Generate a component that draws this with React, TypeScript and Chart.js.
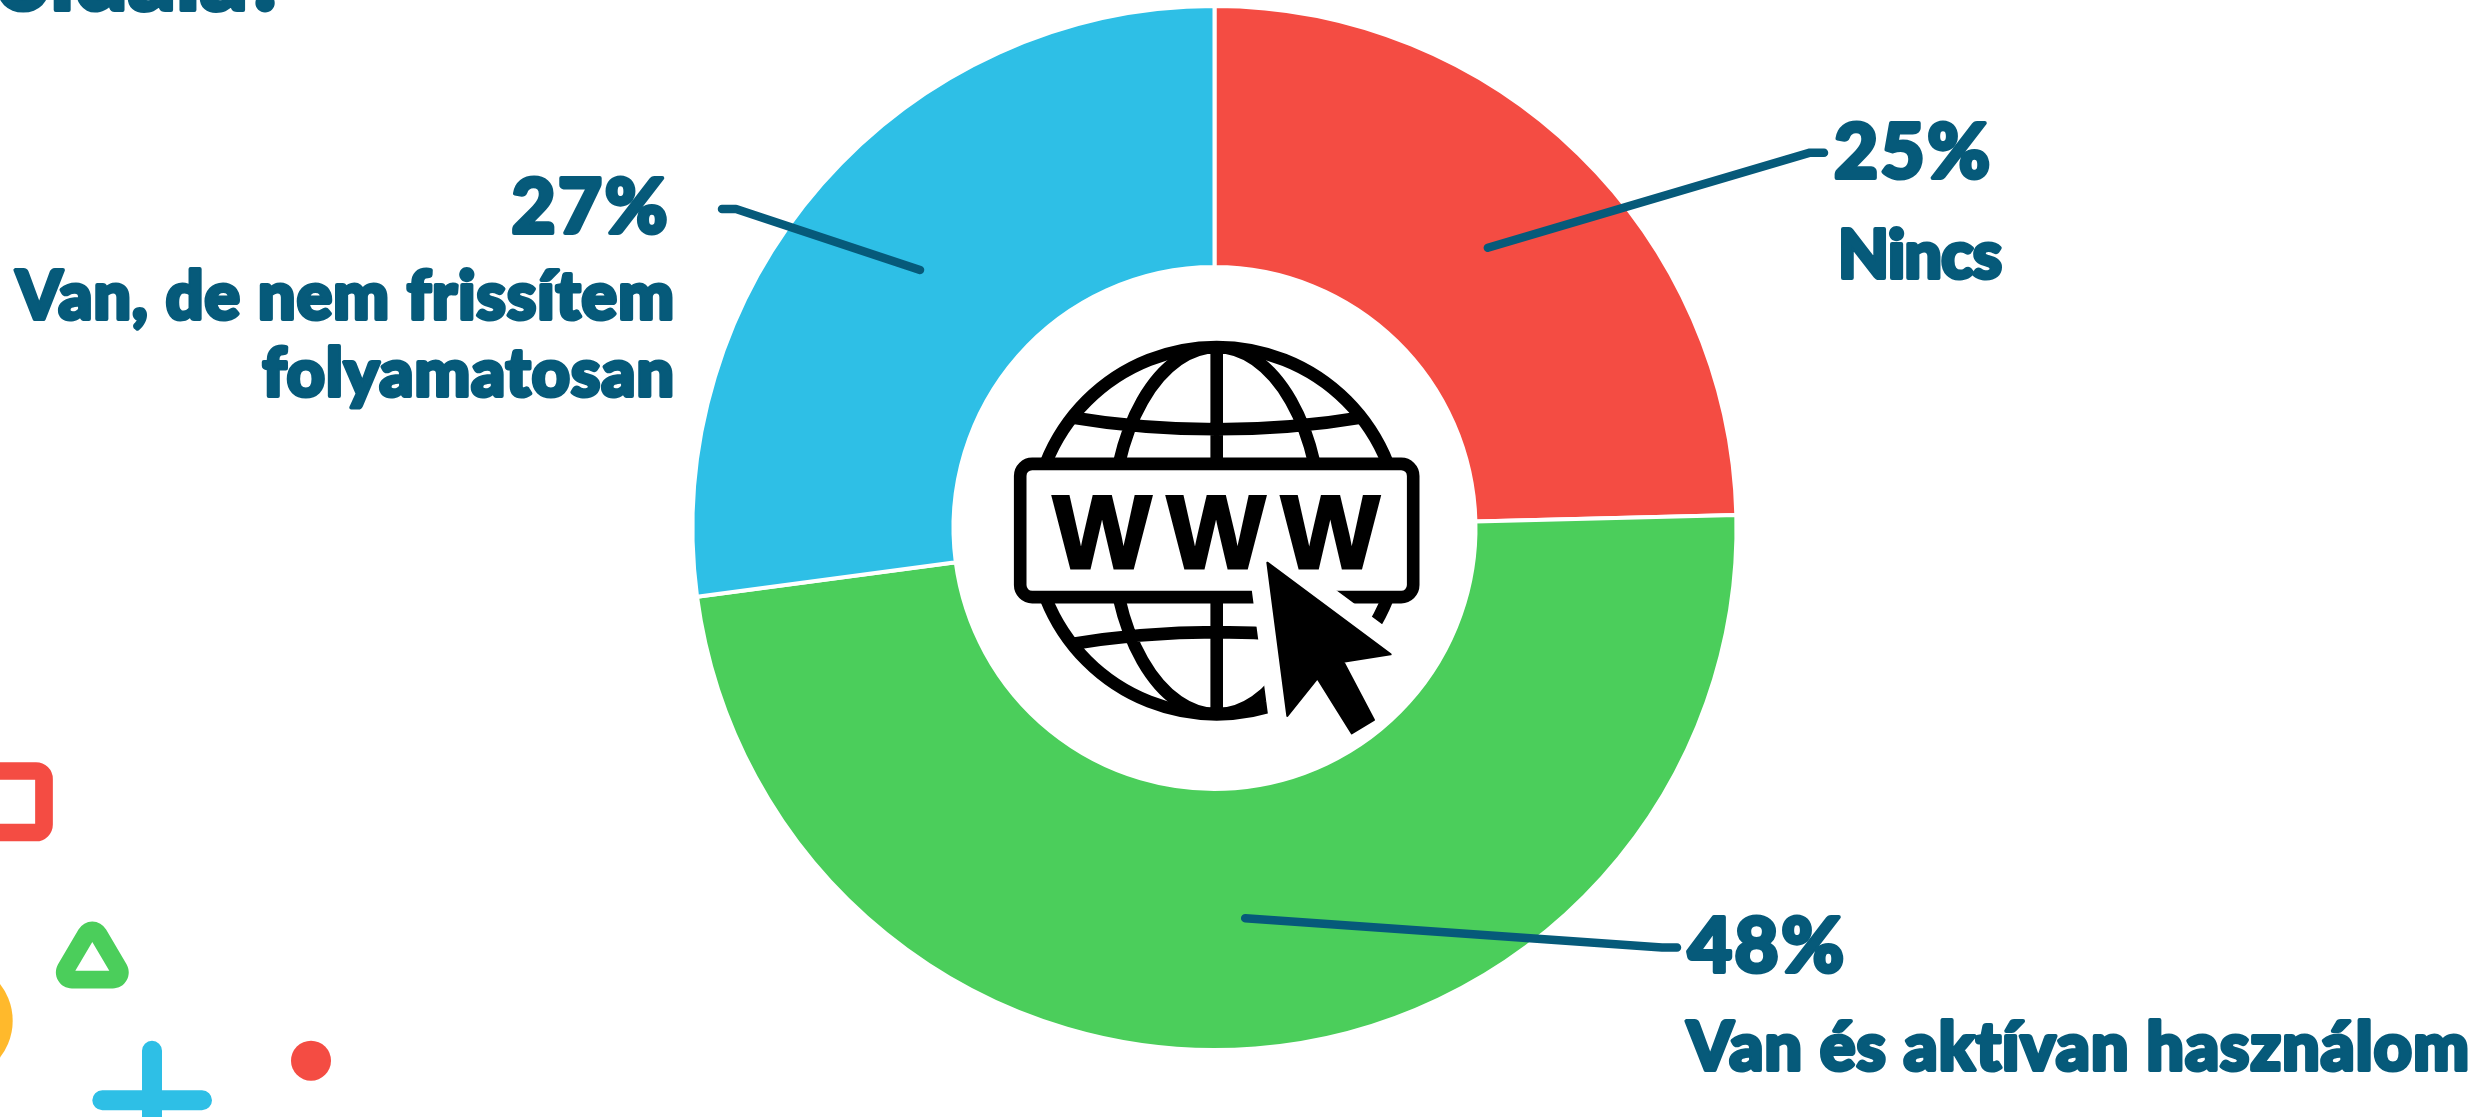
import React, { useEffect, useRef } from "react";
import { Chart, registerables } from "chart.js";

Chart.register(...registerables);

const categories = ["Nincs", "Van és aktívan használom", "Van, de nem frissítem folyamatosan"];
const seriesValues = [24.6, 48.3, 27.1];
const percentLabels = ["25%", "48%", "27%"];
const sliceColors = ["#F44C43", "#4BCE5B", "#2EBFE6"];
const labelLines = [["Nincs"], ["Van és aktívan használom"], ["Van, de nem frissítem", "folyamatosan"]];
const TEXT = "#065A7A";
const W = 2486;
const H = 1117;

const FONT = (size: number) => `900 ${size}px Lato, sans-serif`;

function drawText(ctx: CanvasRenderingContext2D, s: string, x: number, y: number, size: number, align: CanvasTextAlign, spacing: number) {
  ctx.font = FONT(size);
  (ctx as any).letterSpacing = `${spacing}px`;
  ctx.textAlign = align;
  ctx.textBaseline = "alphabetic";
  ctx.fillStyle = TEXT;
  ctx.strokeStyle = TEXT;
  ctx.lineWidth = 4;
  ctx.lineJoin = "round";
  ctx.strokeText(s, x, y);
  ctx.fillText(s, x, y);
  (ctx as any).letterSpacing = "0px";
}

function roundRect(ctx: CanvasRenderingContext2D, x: number, y: number, w: number, h: number, r: number) {
  ctx.beginPath();
  ctx.roundRect(x, y, w, h, r);
}

function drawDecor(ctx: CanvasRenderingContext2D) {
  ctx.save();
  ctx.strokeStyle = "#F44C43";
  ctx.lineWidth = 17.7;
  roundRect(ctx, -60, 771, 104, 61.5, 8);
  ctx.stroke();

  ctx.fillStyle = "#FFB92C";
  ctx.beginPath();
  ctx.arc(-46.7, 1020.7, 59.4, 0, Math.PI * 2);
  ctx.fill();

  ctx.fillStyle = "#4BCE5B";
  ctx.beginPath();
  const a = [92.3, 906], b = [140.7, 988.4], c = [43.9, 988.4];
  ctx.moveTo(92.3, 988.4);
  ctx.arcTo(b[0], b[1], a[0], a[1], 16);
  ctx.arcTo(a[0], a[1], c[0], c[1], 16);
  ctx.arcTo(c[0], c[1], b[0], b[1], 16);
  ctx.closePath();
  ctx.moveTo(92.3, 942);
  ctx.lineTo(75.3, 970.7);
  ctx.lineTo(109.3, 970.7);
  ctx.closePath();
  ctx.fill("evenodd");

  ctx.strokeStyle = "#2EBFE6";
  ctx.lineWidth = 20;
  ctx.lineCap = "round";
  ctx.beginPath();
  ctx.moveTo(152, 1050.7);
  ctx.lineTo(152, 1140);
  ctx.moveTo(102.3, 1100.3);
  ctx.lineTo(202, 1100.3);
  ctx.stroke();

  ctx.fillStyle = "#F44C43";
  ctx.beginPath();
  ctx.arc(311, 1060.7, 20, 0, Math.PI * 2);
  ctx.fill();
  ctx.restore();
}

function drawIcon(ctx: CanvasRenderingContext2D, holeX: number, holeY: number, holeR: number) {
  const cx = 1216.7, cy = 530.7, r = 183.7;
  ctx.save();
  ctx.strokeStyle = "#000";
  ctx.lineWidth = 12.6;
  ctx.beginPath();
  ctx.arc(cx, cy, r, 0, Math.PI * 2);
  ctx.stroke();
  ctx.save();
  ctx.beginPath();
  ctx.arc(cx, cy, r, 0, Math.PI * 2);
  ctx.clip();
  ctx.beginPath();
  ctx.ellipse(cx, cy, 105, r, 0, 0, Math.PI * 2);
  ctx.moveTo(cx, cy - r);
  ctx.lineTo(cx, cy + r);
  for (const sign of [-1, 1]) {
    ctx.moveTo(cx - 150, cy + sign * 114);
    ctx.quadraticCurveTo(cx, cy + sign * 88.8, cx + 150, cy + sign * 114);
  }
  ctx.stroke();
  ctx.restore();

  ctx.fillStyle = "#fff";
  roundRect(ctx, 1020.2, 463.9, 393, 133.2, 12);
  ctx.fill();
  ctx.stroke();

  const cursor = [[922, 788], [1292, 1063], [1150, 1085], [1242, 1260], [1175, 1300], [1072, 1135], [982, 1248]].map(
    ([x, y]) => [x / 3 + 960, y / 3 + 300]
  );
  const tracePath = () => {
    ctx.beginPath();
    cursor.forEach(([x, y], i) => (i ? ctx.lineTo(x, y) : ctx.moveTo(x, y)));
    ctx.closePath();
  };
  ctx.save();
  ctx.beginPath();
  ctx.arc(holeX, holeY, holeR, 0, Math.PI * 2);
  ctx.clip();
  ctx.strokeStyle = "#fff";
  ctx.lineWidth = 38;
  ctx.lineJoin = "round";
  tracePath();
  ctx.stroke();
  ctx.restore();

  ctx.fillStyle = "#000";
  ctx.strokeStyle = "#000";
  ctx.font = "700 104px 'Liberation Sans', sans-serif";
  ctx.textAlign = "center";
  ctx.textBaseline = "alphabetic";
  ctx.lineWidth = 3;
  ctx.lineJoin = "miter";
  for (const x of [1102, 1216, 1330.4]) {
    ctx.strokeText("W", x, 568);
    ctx.fillText("W", x, 568);
  }

  tracePath();
  ctx.lineJoin = "round";
  ctx.lineWidth = 2;
  ctx.stroke();
  ctx.fill();
  ctx.restore();
}

const leaderPaths = [
  { knee: [1810, 152.7], end: [1824, 152.7] },
  { knee: [1662, 947.5], end: [1677, 947.5] },
  { knee: [736, 209], end: [722, 209] },
];
const labelLayout = [
  { x: 1834, pctY: 178, lineYs: [278], lineX: 1838, align: "left" as CanvasTextAlign, spacing: -0.6 },
  { x: 1688, pctY: 971.7, lineYs: [1070], lineX: 1687, align: "left" as CanvasTextAlign, spacing: 1.2 },
  { x: 670, pctY: 233, lineYs: [319, 396], lineX: 675, align: "right" as CanvasTextAlign, spacing: 1.2 },
];

const overlay = {
  id: "overlay",
  afterDatasetsDraw(chart: any) {
    const ctx: CanvasRenderingContext2D = chart.ctx;
    ctx.save();
    drawDecor(ctx);
    const arcs = chart.getDatasetMeta(0).data;
    drawIcon(ctx, arcs[0].x, arcs[0].y, arcs[0].innerRadius);
    categories.forEach((_, i) => {
      const p = arcs[i].getCenterPoint();
      const lp = leaderPaths[i];
      ctx.strokeStyle = TEXT;
      ctx.lineWidth = 8.5;
      ctx.lineCap = "round";
      ctx.lineJoin = "round";
      ctx.beginPath();
      ctx.moveTo(p.x, p.y);
      ctx.lineTo(lp.knee[0], lp.knee[1]);
      ctx.lineTo(lp.end[0], lp.end[1]);
      ctx.stroke();
      const l = labelLayout[i];
      drawText(ctx, percentLabels[i], l.x, l.pctY, 76, l.align, 2.5);
      labelLines[i].forEach((s, j) => drawText(ctx, s, l.lineX, l.lineYs[j], 66, l.align, l.spacing));
    });
    drawText(ctx, "oldala?", -4, 10, 94, "left", 0);
    ctx.restore();
  },
};

export default function App() {
  const ref = useRef<HTMLCanvasElement>(null);
  useEffect(() => {
    document.body.style.margin = "0";
    const chart = new Chart(ref.current!, {
      type: "doughnut",
      data: {
        labels: categories,
        datasets: [
          {
            data: seriesValues,
            backgroundColor: sliceColors,
            borderColor: "#ffffff",
            borderWidth: 4,
            borderAlign: "center",
          },
        ],
      },
      options: {
        responsive: false,
        animation: false,
        cutout: "50%",
        layout: { padding: { left: 690.5, right: 747.5, top: 4, bottom: 65 } },
        plugins: { legend: { display: false }, tooltip: { enabled: false } },
      },
      plugins: [overlay],
    });
    return () => chart.destroy();
  }, []);
  return <canvas ref={ref} width={W} height={H} style={{ display: "block", width: W, height: H }} />;
}
